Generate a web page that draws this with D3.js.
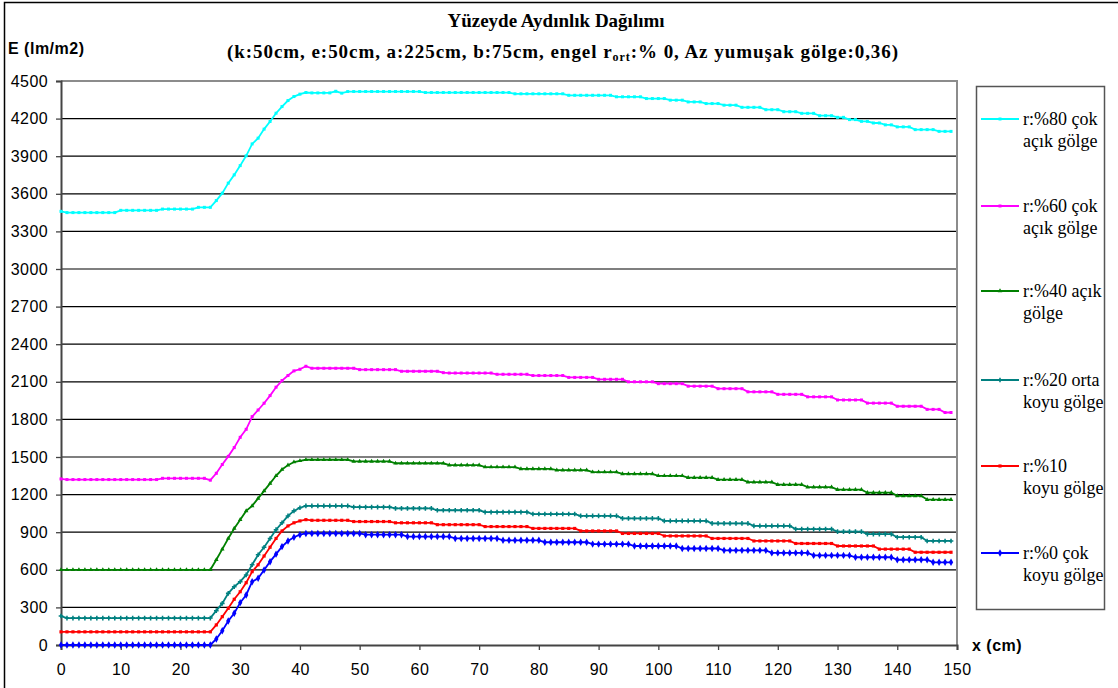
<!DOCTYPE html>
<html><head><meta charset="utf-8">
<script src="https://cdn.jsdelivr.net/npm/d3@7"></script>
<style>body{margin:0;background:#fff}svg{display:block}
.serif{font-family:"Liberation Serif","Times New Roman",Times,"DejaVu Serif",serif}
.sans{font-family:"Liberation Sans",Arial,Helvetica,sans-serif}
</style>
</head><body><svg id="c" width="1118" height="688"></svg>
<script>
const xValues = d3.range(0, 150);
const xTicks = [0,10,20,30,40,50,60,70,80,90,100,110,120,130,140,150];
const yTicks = [0,300,600,900,1200,1500,1800,2100,2400,2700,3000,3300,3600,3900,4200,4500];

const r80 = [3460,3450,3450,3450,3450,3450,3450,3450,3450,3450,
3468,3468,3468,3468,3468,3468,3468,3478,3478,3478,
3478,3478,3478,3492,3492,3492,3546,3605,3685,3751,
3825,3903,3998,4044,4116,4177,4243,4296,4344,4376,
4395,4408,4405,4405,4405,4405,4418,4403,4416,4416,
4416,4416,4416,4416,4416,4416,4416,4416,4416,4416,
4416,4408,4408,4408,4408,4408,4408,4408,4408,4408,
4408,4408,4408,4408,4408,4408,4398,4398,4398,4398,
4398,4398,4398,4398,4398,4386,4386,4386,4386,4386,
4386,4386,4386,4374,4374,4374,4374,4374,4360,4360,
4360,4360,4347,4347,4347,4333,4333,4333,4320,4320,
4320,4307,4307,4307,4290,4290,4290,4290,4271,4271,
4271,4255,4255,4255,4242,4242,4242,4223,4223,4223,
4210,4210,4192,4192,4178,4178,4165,4165,4150,4150,
4134,4134,4134,4112,4112,4112,4112,4098,4098,4098];

const r60 = [1325,1320,1320,1320,1320,1320,1320,1320,1320,1320,
1320,1320,1320,1320,1320,1320,1320,1330,1330,1330,
1330,1330,1330,1330,1330,1315,1370,1440,1505,1575,
1657,1721,1822,1875,1929,1990,2057,2110,2150,2187,
2200,2224,2208,2208,2208,2208,2208,2208,2208,2208,
2197,2197,2197,2197,2197,2197,2197,2184,2184,2184,
2184,2184,2184,2184,2173,2170,2170,2170,2170,2170,
2170,2170,2170,2160,2160,2160,2160,2160,2160,2150,
2150,2150,2150,2150,2150,2135,2135,2135,2135,2135,
2120,2120,2120,2120,2120,2100,2100,2100,2100,2100,
2085,2085,2085,2085,2085,2065,2065,2065,2065,2065,
2045,2045,2045,2045,2045,2020,2020,2020,2020,2020,
2000,2000,2000,2000,2000,1980,1980,1980,1980,1980,
1955,1955,1955,1955,1955,1930,1930,1930,1930,1930,
1905,1905,1905,1905,1905,1880,1880,1880,1855,1855];

const r40 = [600,600,600,600,600,600,600,600,600,600,
600,600,600,600,600,600,600,600,600,600,
600,600,600,600,600,600,680,765,850,930,
1000,1070,1110,1170,1230,1290,1350,1400,1435,1460,
1470,1478,1478,1478,1478,1478,1478,1478,1478,1465,
1465,1465,1465,1465,1465,1465,1450,1450,1450,1450,
1450,1450,1450,1450,1450,1435,1435,1435,1435,1435,
1435,1420,1420,1420,1420,1420,1420,1405,1405,1405,
1405,1405,1405,1395,1395,1395,1395,1395,1395,1380,
1380,1380,1380,1380,1365,1365,1365,1365,1365,1365,
1350,1350,1350,1350,1350,1335,1335,1335,1335,1335,
1320,1320,1320,1320,1320,1300,1300,1300,1300,1300,
1280,1280,1280,1280,1280,1260,1260,1260,1260,1260,
1240,1240,1240,1240,1240,1215,1215,1215,1215,1215,
1190,1190,1190,1190,1190,1160,1160,1160,1160,1160];

const r20 = [231,215,215,215,215,215,215,215,215,215,
215,215,215,215,215,215,215,215,215,215,
215,215,215,215,215,215,274,332,412,465,
505,559,640,720,780,850,920,975,1030,1070,
1095,1110,1110,1110,1110,1110,1110,1110,1110,1100,
1100,1100,1100,1100,1100,1100,1090,1090,1090,1090,
1090,1090,1090,1075,1075,1075,1075,1075,1075,1075,
1075,1060,1060,1060,1060,1060,1060,1060,1060,1045,
1045,1045,1045,1045,1045,1045,1045,1030,1030,1030,
1030,1030,1030,1030,1010,1010,1010,1010,1010,1010,
1010,990,990,990,990,990,990,990,990,970,
970,970,970,970,970,970,950,950,950,950,
950,950,950,925,925,925,925,925,925,925,
905,905,905,905,905,885,885,885,885,885,
860,860,860,860,860,830,830,830,830,830];

const r10 = [105,105,105,105,105,105,105,105,105,105,
105,105,105,105,105,105,105,105,105,105,
105,105,105,105,105,105,160,226,293,365,
425,497,585,640,710,780,850,910,950,975,
990,1000,995,995,995,995,995,995,995,985,
985,985,985,985,985,985,975,975,975,975,
975,975,975,960,960,960,960,960,960,960,
960,945,945,945,945,945,945,945,945,930,
930,930,930,930,930,930,930,910,910,910,
910,910,910,910,890,890,890,890,890,890,
890,870,870,870,870,870,870,870,870,850,
850,850,850,850,850,850,830,830,830,830,
830,830,830,810,810,810,810,810,810,810,
790,790,790,790,790,790,790,765,765,765,
765,765,765,740,740,740,740,740,740,740];

const r0 = [0,0,0,0,0,0,0,0,0,0,
0,0,0,0,0,0,0,0,0,0,
0,0,0,0,0,0,48,114,191,253,
338,399,505,532,598,665,725,785,830,860,
880,890,890,890,890,890,890,890,890,890,
890,880,880,880,880,880,880,880,865,865,
865,865,865,865,865,865,850,850,850,850,
850,850,850,850,835,835,835,835,835,835,
835,820,820,820,820,820,820,820,820,805,
805,805,805,805,805,805,790,790,790,790,
790,790,790,790,770,770,770,770,770,770,
770,755,755,755,755,755,755,755,755,735,
735,735,735,735,735,735,715,715,715,715,
715,715,715,700,700,700,700,700,700,700,
680,680,680,680,680,680,660,660,660,660];

const seriesNames = ["r:%80 çok|açık gölge","r:%60 çok|açık gölge","r:%40 açık|gölge","r:%20 orta|koyu gölge","r:%10|koyu gölge","r:%0 çok|koyu gölge"];
const seriesColors = ["#00FFFF","#FF00FF","#008000","#008080","#FF0000","#0000FF"];
const seriesValues = [r80, r60, r40, r20, r10, r0];
const seriesMarkers = [d3.symbolSquare, d3.symbolSquare, d3.symbolTriangle, d3.symbolCross, d3.symbolSquare, d3.symbolDiamond];
const markerSizes = [9, 9, 9, 12, 10, 16];

const svg = d3.select("#c");
const x = d3.scaleLinear().domain([0,150]).range([61,957]);
const y = d3.scaleLinear().domain([0,4500]).range([645,81]);

// outer border
svg.append("rect").attr("x",4.5).attr("y",2.5).attr("width",1300).attr("height",800)
  .attr("fill","none").attr("stroke","#000").attr("stroke-width",1.5);

// gridlines
svg.append("g").selectAll("line").data(yTicks.filter(v=>v>0 && v<4500)).join("line")
  .attr("x1",x(0)).attr("x2",x(150)).attr("y1",d=>y(d)).attr("y2",d=>y(d))
  .attr("stroke","#000").attr("stroke-width",1.2);
// plot border top/right
svg.append("path").attr("d",`M${x(0)},${y(4500)}H${x(150)}V${y(0)}`)
  .attr("fill","none").attr("stroke","#8c8c8c").attr("stroke-width",2);

// axes
const yAxis = svg.append("g").attr("transform",`translate(${x(0)},0)`)
  .call(d3.axisLeft(y).tickValues(yTicks).tickFormat(d3.format("d")).tickSize(5).tickPadding(8));
const xAxis = svg.append("g").attr("transform",`translate(0,${y(0)})`)
  .call(d3.axisBottom(x).tickValues(xTicks).tickFormat(d3.format("d")).tickSize(5).tickPadding(14));
[yAxis,xAxis].forEach(a=>{
  a.attr("font-family",null).attr("font-size",null);
  a.select(".domain").attr("stroke","#444").attr("stroke-width",2);
  a.selectAll(".tick line").attr("stroke","#444").attr("stroke-width",1.3);
  a.selectAll("text").attr("class","sans").style("font-size","16px").style("letter-spacing","0.4px").attr("fill","#000");
});

// lines
const line = d3.line().x((d,i)=>x(xValues[i])).y(d=>y(d));
seriesValues.forEach((vals,k)=>{
  const g = svg.append("g");
  g.append("path").datum(vals).attr("d",line).attr("fill","none")
    .attr("stroke",seriesColors[k]).attr("stroke-width",1.8);
  g.selectAll("path.m").data(vals).join("path").attr("class","m")
    .attr("transform",(d,i)=>`translate(${x(xValues[i])},${y(d)})`)
    .attr("d",d3.symbol().type(seriesMarkers[k]).size(markerSizes[k]))
    .attr("fill",seriesColors[k]);
});

// titles
const t = svg.append("g").attr("class","serif").style("font-weight","bold").style("font-size","19px").attr("text-anchor","middle");
t.append("text").attr("x",556).attr("y",27).text("Yüzeyde Aydınlık Dağılımı");
const t2 = t.append("text").attr("x",563).attr("y",58).style("letter-spacing","0.95px");
t2.append("tspan").text("(k:50cm, e:50cm, a:225cm, b:75cm, engel r");
t2.append("tspan").style("font-size","12px").attr("dy",3).text("ort");
t2.append("tspan").attr("dy",-3).text(":% 0, Az yumuşak gölge:0,36)");

svg.append("text").attr("x",8).attr("y",54).attr("class","sans")
  .style("font-weight","bold").style("font-size","16px").style("letter-spacing","0.5px").text("E (lm/m2)");
svg.append("text").attr("x",972).attr("y",651).attr("class","sans")
  .style("font-weight","bold").style("font-size","16px").style("letter-spacing","0.5px").text("x (cm)");

// legend
const lg = svg.append("g");
lg.append("rect").attr("x",976.5).attr("y",86.5).attr("width",128).attr("height",523)
  .attr("fill","#fff").attr("stroke","#555").attr("stroke-width",1.5);
const legY = [119,206,291,380,466,553];
seriesNames.forEach((n,k)=>{
  const yy = legY[k];
  lg.append("line").attr("x1",981).attr("x2",1019).attr("y1",yy).attr("y2",yy)
    .attr("stroke",seriesColors[k]).attr("stroke-width",1.8);
  lg.append("path").attr("transform",`translate(1000,${yy})`)
    .attr("d",d3.symbol().type(seriesMarkers[k]).size(markerSizes[k])).attr("fill",seriesColors[k]);
  const parts = n.split("|");
  parts.forEach((p,j)=>{
    lg.append("text").attr("x",1023).attr("y",yy+6+j*22)
      .attr("class","serif").style("font-size","18px").text(p);
  });
});
</script></body></html>
